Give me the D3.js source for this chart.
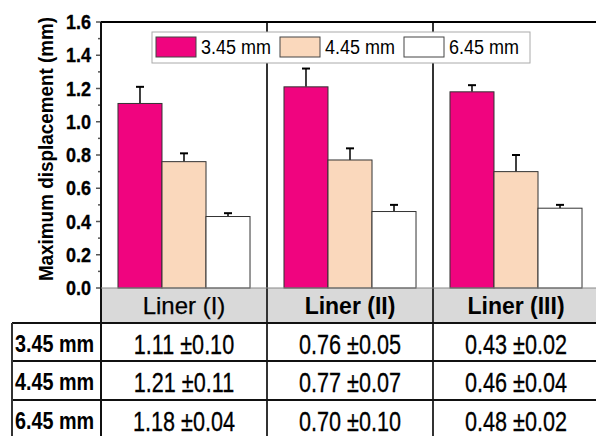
<!DOCTYPE html>
<meta charset="utf-8">
<style>
body{ margin:0; background:#fff; }
text{ font-family:"Liberation Sans", Arial, sans-serif; fill:#000; }
</style>
<body>
<script src="https://cdn.jsdelivr.net/npm/d3@7"></script>
<script>

// data
var liners = ["Liner (I)", "Liner (II)", "Liner (III)"];
var sizes = ["3.45 mm", "4.45 mm", "6.45 mm"];
var meanI = [1.11, 0.76, 0.43], sdI = [0.10, 0.05, 0.02];
var meanII = [1.21, 0.77, 0.46], sdII = [0.11, 0.07, 0.04];
var meanIII = [1.18, 0.70, 0.48], sdIII = [0.04, 0.10, 0.02];
var yTicks = [0, 0.2, 0.4, 0.6, 0.8, 1.0, 1.2, 1.4, 1.6];

var means = [meanI, meanII, meanIII], sds = [sdI, sdII, sdIII];
var colors = ["#f0047f", "#fad8bc", "#ffffff"];

var W = 596, H = 436;
var pLeft = 101, pRight = 599, pTop = 22, pBottom = 288;
var rowY = [323, 361, 400, 438];

var svg = d3.select("body").append("svg")
    .attr("width", W).attr("height", H);

var y = d3.scaleLinear().domain([0, 1.6]).range([pBottom, pTop]);
var x0 = d3.scaleBand().domain(liners).range([pLeft, pRight]);
var x1 = d3.scaleBand().domain(sizes).range([0, x0.bandwidth()])
    .paddingInner(0).paddingOuter(0.386);

// header row of the table under the plot
svg.append("rect")
    .attr("x", pLeft).attr("y", pBottom)
    .attr("width", pRight - pLeft).attr("height", rowY[0] - pBottom)
    .attr("fill", "#d9d9d9");

// group separators
svg.selectAll(".sep").data(liners.slice(1)).enter().append("line")
    .attr("x1", function(d) { return x0(d); }).attr("x2", function(d) { return x0(d); })
    .attr("y1", pTop).attr("y2", H)
    .attr("stroke", "#333").attr("stroke-width", 2);

// bars
var g = svg.selectAll(".grp").data(liners).enter().append("g")
    .attr("transform", function(d) { return "translate(" + x0(d) + ",0)"; });

g.each(function(l, li) {
  var rows = sizes.map(function(s, si) { return {s: s, si: si, v: means[li][si], e: sds[li][si]}; });
  var sel = d3.select(this);
  sel.selectAll("line.err").data(rows).enter().append("line")
      .attr("x1", function(d) { return x1(d.s) + x1.bandwidth() / 2; })
      .attr("x2", function(d) { return x1(d.s) + x1.bandwidth() / 2; })
      .attr("y1", function(d) { return y(d.v); })
      .attr("y2", function(d) { return y(d.v + d.e); })
      .attr("stroke", "#000").attr("stroke-width", 1.5);
  sel.selectAll("line.cap").data(rows).enter().append("line")
      .attr("x1", function(d) { return x1(d.s) + x1.bandwidth() / 2 - 4; })
      .attr("x2", function(d) { return x1(d.s) + x1.bandwidth() / 2 + 4; })
      .attr("y1", function(d) { return y(d.v + d.e); })
      .attr("y2", function(d) { return y(d.v + d.e); })
      .attr("stroke", "#000").attr("stroke-width", 2);
  sel.selectAll("rect").data(rows).enter().append("rect")
      .attr("x", function(d) { return x1(d.s); })
      .attr("y", function(d) { return y(d.v); })
      .attr("width", x1.bandwidth())
      .attr("height", function(d) { return pBottom - y(d.v); })
      .attr("fill", function(d) { return colors[d.si]; })
      .attr("stroke", "#333").attr("stroke-width", 1);
});

// y axis
var minor = d3.range(0.1, 1.6, 0.2);
svg.selectAll(".mt").data(minor).enter().append("line")
    .attr("x1", pLeft - 3).attr("x2", pLeft)
    .attr("y1", function(d) { return y(d); }).attr("y2", function(d) { return y(d); })
    .attr("stroke", "#555").attr("stroke-width", 1.5);
svg.selectAll(".Mt").data(yTicks).enter().append("line")
    .attr("x1", pLeft - 5).attr("x2", pLeft)
    .attr("y1", function(d) { return y(d); }).attr("y2", function(d) { return y(d); })
    .attr("stroke", "#555").attr("stroke-width", 1.5);
svg.selectAll(".tl").data(yTicks).enter().append("text")
    .attr("transform", function(d) { return "translate(91," + y(d) + ") scale(1,1.1)"; })
    .attr("dy", "0.36em").attr("text-anchor", "end")
    .style("font-size", "18px").style("font-weight", "bold")
    .style("stroke", "#000").style("stroke-width", 0.3)
    .text(d3.format(".1f"));

svg.append("text")
    .attr("transform", "translate(53,149) rotate(-90) scale(1.18,1.25)")
    .attr("text-anchor", "middle")
    .style("font-size", "16px").style("font-weight", "bold")
    .text("Maximum displacement (mm)");

// frame: top line, axis line
svg.append("line").attr("x1", pLeft).attr("x2", pRight).attr("y1", pTop).attr("y2", pTop)
    .attr("stroke", "#000").attr("stroke-width", 2);
svg.append("line").attr("x1", pLeft).attr("x2", pLeft).attr("y1", pTop).attr("y2", H)
    .attr("stroke", "#111").attr("stroke-width", 2);
svg.append("line").attr("x1", pLeft).attr("x2", pRight).attr("y1", pBottom).attr("y2", pBottom)
    .attr("stroke", "#888").attr("stroke-width", 1);

// legend
var leg = svg.append("g");
leg.append("rect").attr("x", 152).attr("y", 32).attr("width", 378).attr("height", 31)
    .attr("fill", "#fff").attr("stroke", "#aaa").attr("stroke-width", 1);
var li = leg.selectAll(".li").data(sizes).enter().append("g")
    .attr("transform", function(d, i) { return "translate(" + (156 + i * 124) + ",37)"; });
li.append("rect").attr("width", 40).attr("height", 20)
    .attr("fill", function(d, i) { return colors[i]; })
    .attr("stroke", "#444").attr("stroke-width", 1);
li.append("text").attr("transform", "translate(45,17) scale(1,1.12)")
    .style("font-size", "18px").text(function(d) { return d; });

// table header labels
svg.selectAll(".hd").data(liners).enter().append("text")
    .attr("x", function(d) { return x0(d) + 83; })
    .attr("y", 314).attr("text-anchor", "middle")
    .style("font-size", function(d, i) { return i === 0 ? "24px" : "23px"; })
    .style("font-weight", function(d, i) { return i === 0 ? "normal" : "bold"; })
    .style("stroke", "#000").style("stroke-width", function(d, i) { return i === 0 ? 0.25 : 0; })
    .text(function(d) { return d; });

// table body
var f = d3.format(".2f");
svg.selectAll(".hl").data(rowY.slice(0, 3)).enter().append("line")
    .attr("x1", 12).attr("x2", pRight)
    .attr("y1", function(d) { return d; }).attr("y2", function(d) { return d; })
    .attr("stroke", "#111").attr("stroke-width", 2);
svg.append("line").attr("x1", 12).attr("x2", 12).attr("y1", rowY[0]).attr("y2", H)
    .attr("stroke", "#333").attr("stroke-width", 2);

svg.selectAll(".rl").data(sizes).enter().append("text")
    .attr("transform", function(d, i) { return "translate(15," + (rowY[i] + 29) + ") scale(0.9,1.05)"; })
    .style("font-size", "22px").style("font-weight", "bold")
    .text(function(d) { return d; });

sizes.forEach(function(s, r) {
  liners.forEach(function(l, c) {
    svg.append("text")
        .attr("transform", "translate(" + (x0(liners[c]) + 83) + "," + (rowY[r] + 31) + ") scale(0.8,1.05)")
        .attr("text-anchor", "middle")
        .style("font-size", "27px")
        .style("stroke", "#000").style("stroke-width", 0.3)
        .text(f(means[r][c]) + " \u00b1" + f(sds[r][c]));
  });
});
</script>
